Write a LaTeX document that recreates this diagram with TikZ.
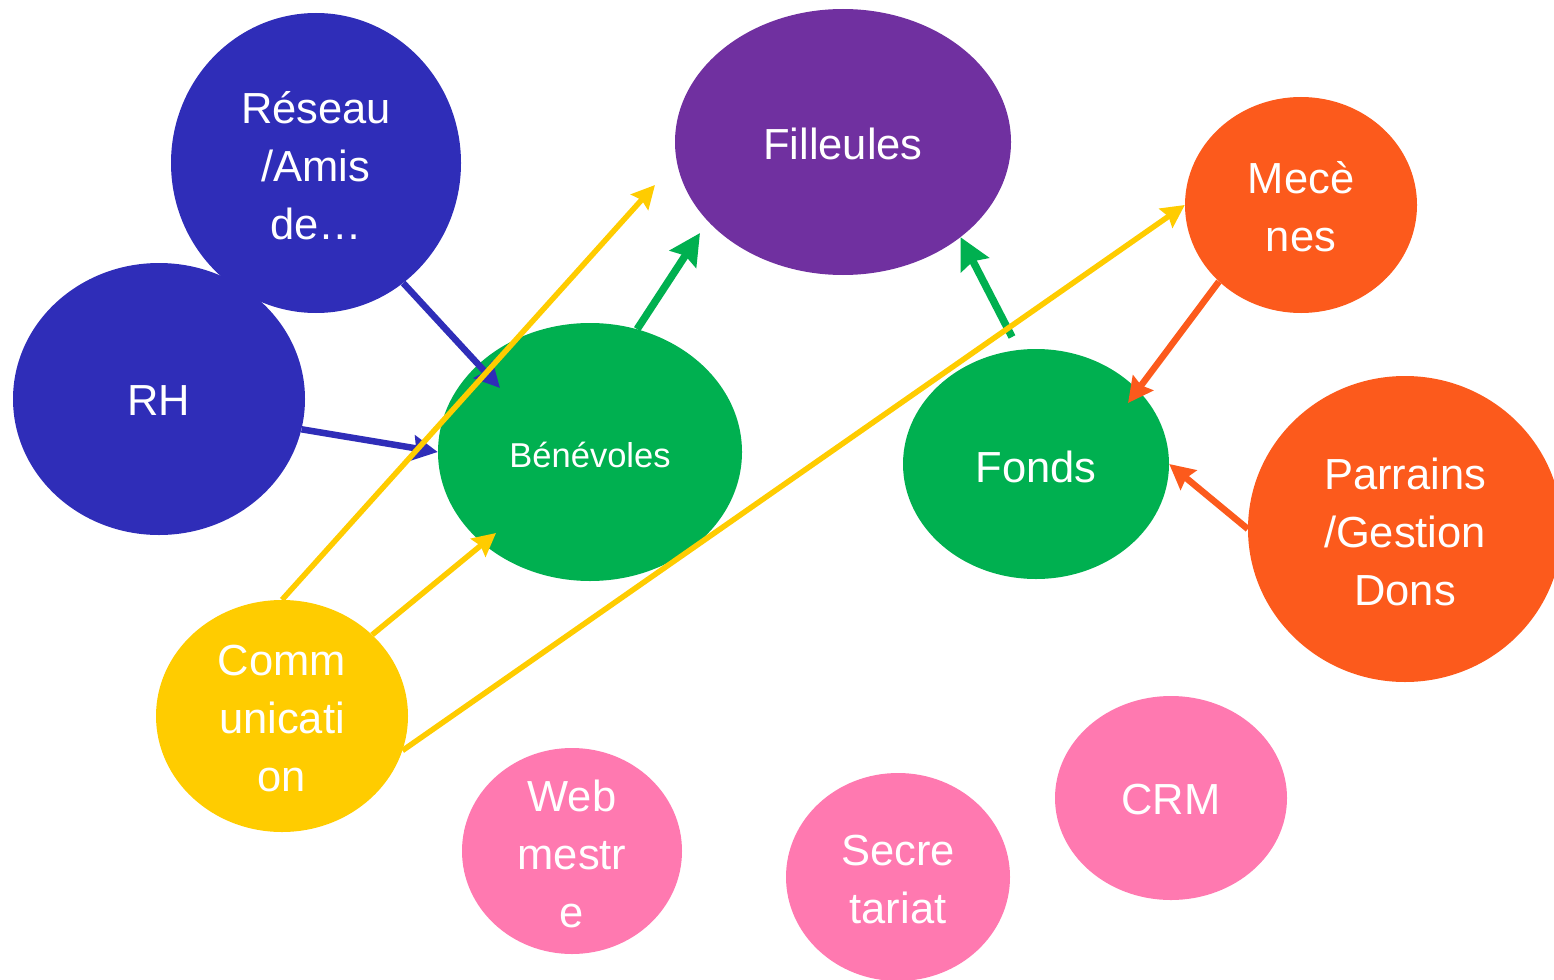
\documentclass[tikz,border=0pt]{standalone}
\usepackage{fontspec}
\setmainfont{Liberation Sans}
\usetikzlibrary{shapes.geometric,arrows.meta}
\definecolor{cblue}{RGB}{47,45,184}
\definecolor{cpurple}{RGB}{112,48,160}
\definecolor{cgreen}{RGB}{0,176,80}
\definecolor{corange}{RGB}{252,90,28}
\definecolor{cyellow}{RGB}{255,204,0}
\definecolor{cpink}{RGB}{255,121,176}
\tikzset{
  blob/.style={ellipse, inner sep=0pt, draw=none},
  lbl/.style={text=white, align=center, font=\fontsize{43.5}{58}\selectfont, inner sep=0pt},
  conn/.style={line width=6.5pt, -{Stealth[length=25pt,width=25pt,inset=3pt]}},
  bigconn/.style={line width=7.5pt, -{Stealth[length=31pt,width=31pt,inset=4pt]}},
  yconn/.style={line width=5.5pt, draw=cyellow, -{Stealth[length=23pt,width=23pt,inset=3pt]}},
}
\begin{document}
\begin{tikzpicture}[x=1pt,y=-1pt]
\useasboundingbox (0,0) rectangle (1554,979);
% shapes
\node[blob, fill=cblue, minimum width=290pt, minimum height=300pt] (reseau) at (316,163) {};
\node[blob, fill=cblue, minimum width=292pt, minimum height=272pt] (rh) at (159,399) {};
\node[blob, fill=cpurple, minimum width=336pt, minimum height=266pt] (filleules) at (843,142) {};
\node[blob, fill=cgreen, minimum width=304pt, minimum height=258pt] (benevoles) at (590,452) {};
\node[blob, fill=corange, minimum width=232pt, minimum height=216pt] (mecenes) at (1301,205) {};
\node[blob, fill=cgreen, minimum width=266pt, minimum height=230pt] (fonds) at (1036,464) {};
\node[blob, fill=corange, minimum width=314pt, minimum height=306pt] (parrains) at (1405,529) {};
\node[blob, fill=cyellow, minimum width=252pt, minimum height=232pt] (comm) at (282,716) {};
\node[blob, fill=cpink, minimum width=220pt, minimum height=206pt] (web) at (572,851) {};
\node[blob, fill=cpink, minimum width=224pt, minimum height=208pt] (secr) at (898,877) {};
\node[blob, fill=cpink, minimum width=232pt, minimum height=204pt] (crm) at (1171,798) {};
% labels
\node[lbl] (treseau) at (316,166) {Réseau\\/Amis\\de…};
\node[lbl] (trh) at (159,401) {RH};
\node[lbl] (tfilleules) at (843,144) {Filleules};
\node[lbl, font=\fontsize{34.5}{40}\selectfont] (tbenevoles) at (590,455) {Bénévoles};
\node[lbl] (tmecenes) at (1301,207) {Mecè\\nes};
\node[lbl] (tfonds) at (1036,467) {Fonds};
\node[lbl] (tparrains) at (1405,532) {Parrains\\/Gestion\\Dons};
\node[lbl] (tcomm) at (282,719) {Comm\\unicati\\on};
\node[lbl] (tweb) at (572,854) {Web\\mestr\\e};
\node[lbl] (tsecr) at (898,880) {Secre\\tariat};
\node[lbl] (tcrm) at (1171,800) {CRM};
% free ends
\coordinate (eres) at (500,388);
\coordinate (efil) at (700,233);
\coordinate (sfonds) at (1012,337);
\coordinate (emec) at (1128,403);
\coordinate (ecomm) at (655,185);
\coordinate (eben) at (496,533);
% connectors
\draw[conn, draw=cblue, cblue] (reseau.-54.4) -- (eres);
\draw[conn, draw=cblue, cblue] (rh.-12.4) -- (benevoles.west);
\draw[bigconn, draw=cgreen, cgreen] (benevoles.69.3) -- (efil);
\draw[bigconn, draw=cgreen, cgreen] (sfonds) -- (filleules.-39.1);
\draw[conn, draw=corange, corange] (mecenes.223.6) -- (emec);
\draw[conn, draw=corange, corange] (parrains.west) -- (fonds.east);
\draw[yconn, cyellow] (comm.north) -- (ecomm);
\draw[yconn, cyellow] (comm.42.6) -- (eben);
\draw[yconn, cyellow] (comm.-16) -- (mecenes.west);
\end{tikzpicture}
\end{document}
